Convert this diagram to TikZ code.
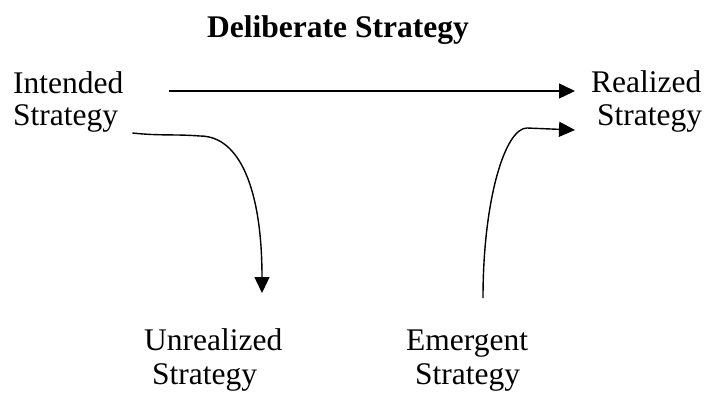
\documentclass[tikz,border=0pt]{standalone}
\usepackage{fontspec}
\setmainfont{Liberation Serif}
\usetikzlibrary{arrows.meta,calc}
\begin{document}
\begin{tikzpicture}[x=1pt,y=-1pt,
  lbl/.style={inner sep=0pt,anchor=base west,font=\fontsize{31.5}{37}\selectfont},
  ttl/.style={inner sep=0pt,anchor=base,font=\fontsize{31.5}{37}\selectfont\bfseries},
  arr/.style={line width=1.4pt,-{Triangle[length=16pt,width=15pt]}}]
\useasboundingbox (0,0) rectangle (707,392);
\node[ttl] (title) at (338,37) {Deliberate Strategy};
\node[lbl] (int1) at (13,93) {Intended};
\node[lbl] (int2) at (13,125) {Strategy};
\node[lbl] (real1) at (591,92) {Realized};
\node[lbl] (real2) at (597,125) {Strategy};
\node[lbl] (unr1) at (144,350) {Unrealized};
\node[lbl] (unr2) at (152,384) {Strategy};
\node[lbl] (eme1) at (406,350) {Emergent};
\node[lbl] (eme2) at (415,384) {Strategy};
% deliberate
\draw[arr] ([xshift=45pt,yshift=2pt]int1.base east) -- ([xshift=-16pt,yshift=1pt]real1.base west);
% unrealized
\draw[arr] ([xshift=14pt,yshift=-8pt]int2.base east)
  .. controls (160,136) and (175,134) .. (200,136)
  .. controls (240,136) and (262,190) .. ([xshift=118pt,yshift=57pt]unr1.base west);
% emergent
\draw[arr] ([xshift=77pt,yshift=52pt]eme1.base west)
  .. controls (483,200) and (505,128) .. (527,128)
  -- ([xshift=-22pt,yshift=-5pt]real2.base west);
\end{tikzpicture}
\end{document}
